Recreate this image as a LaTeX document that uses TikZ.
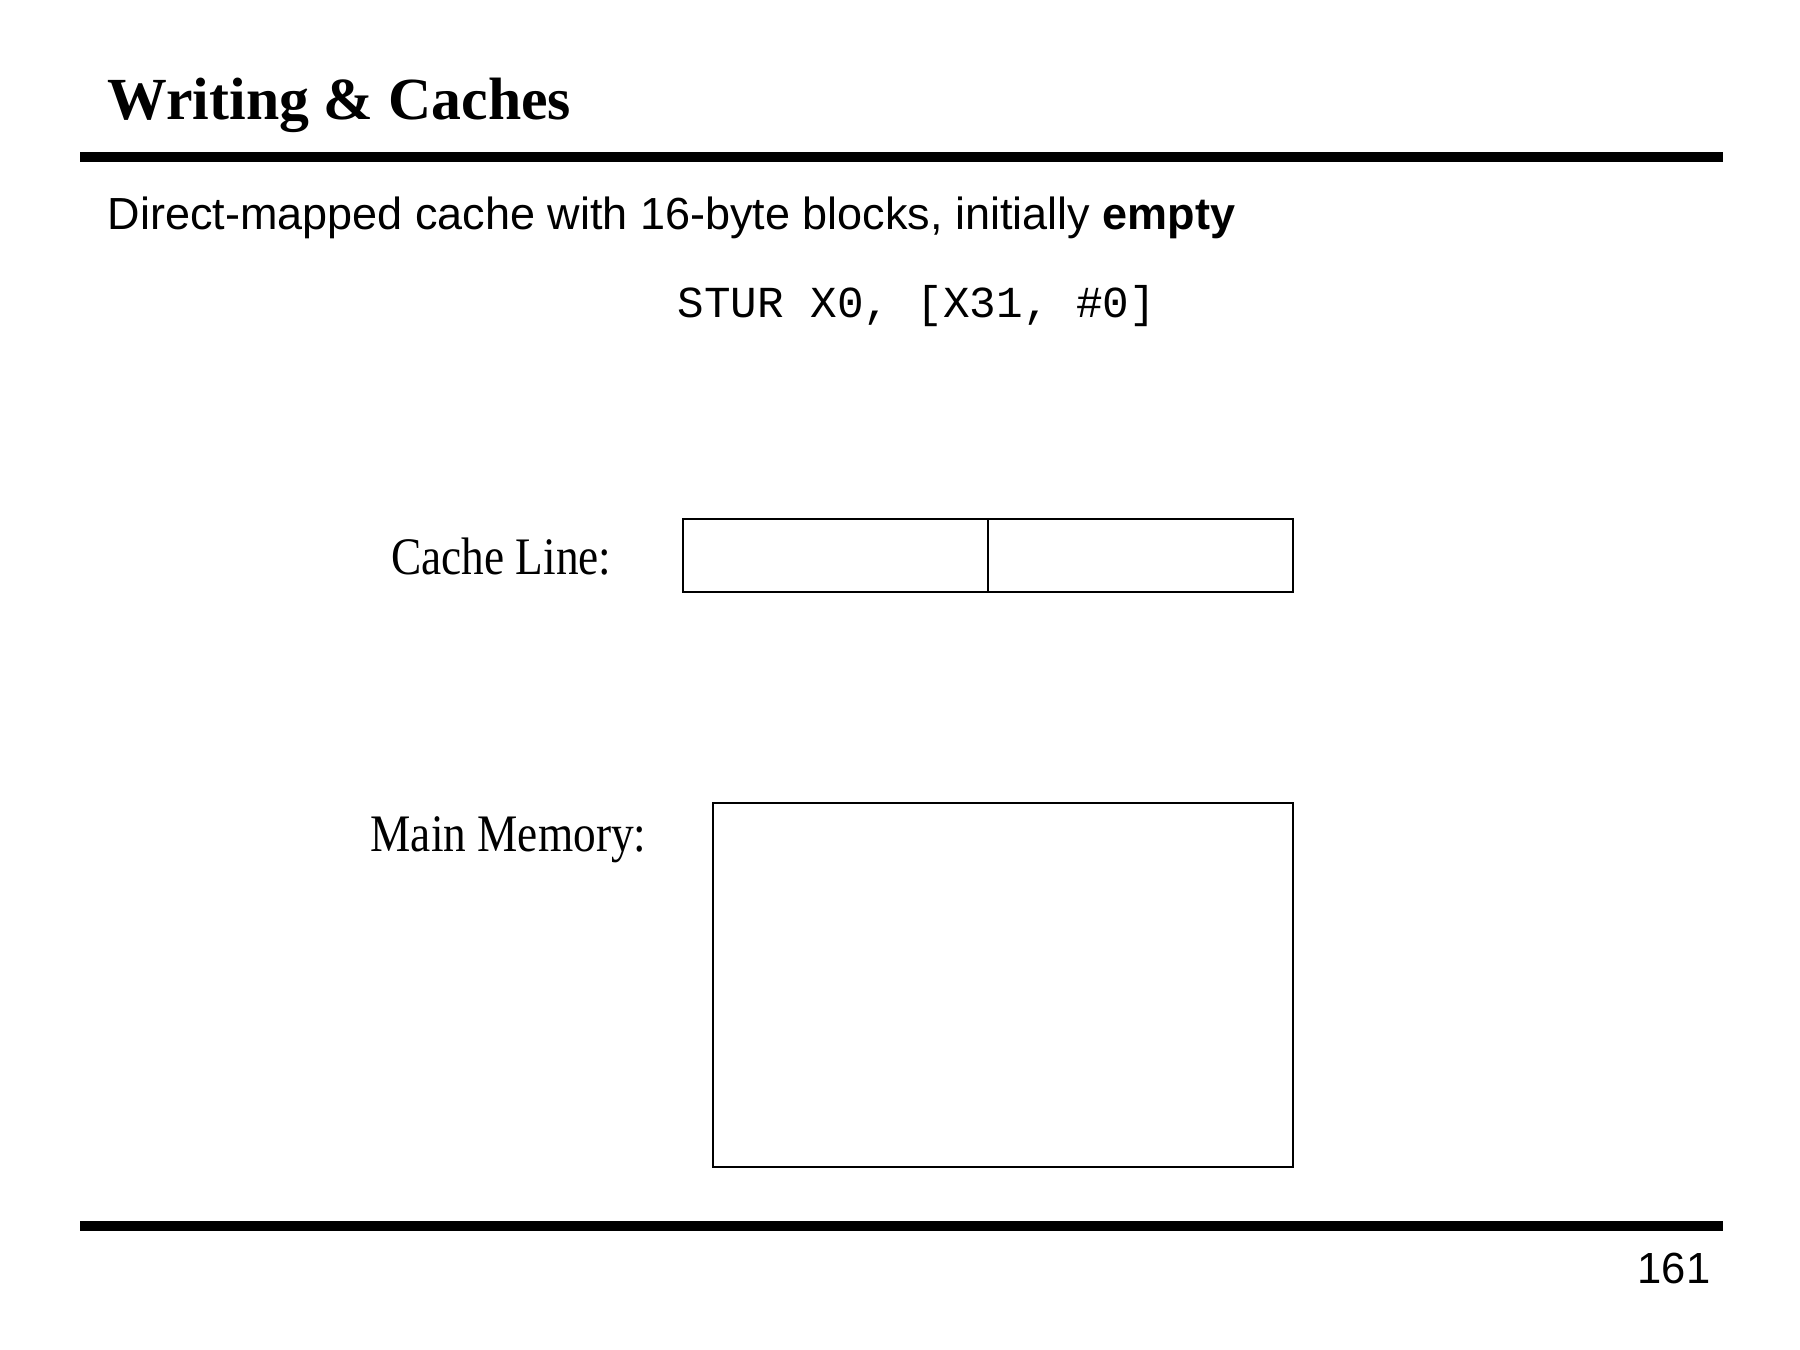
\documentclass[tikz,border=0pt]{standalone}
\usepackage{fontspec}
\setmainfont{Liberation Serif}
\setsansfont{Liberation Sans}
\setmonofont{Liberation Mono}
\tikzset{
  rule/.style={line width=2.6pt},
  cell/.style={draw, line width=0.8pt, inner sep=0pt, outer sep=0pt},
  label/.style={inner sep=0pt, xscale=0.86},
}
\begin{document}
\begin{tikzpicture}
        \useasboundingbox (0,0) rectangle (18,-13.5);
        \node[anchor=base west, inner sep=0pt] (title) at (1.07,-1.19) {\fontsize{17pt}{20pt}\selectfont\bfseries Writing \& Caches};
        \draw[rule] (0.80,-1.57) -- (17.23,-1.57);
        \node[anchor=base west, inner sep=0pt] (sub) at (1.07,-2.29) {\sffamily\fontsize{12.8pt}{15pt}\selectfont Direct-mapped cache with 16-byte blocks, initially \textbf{empty}};
        \node[anchor=base west, inner sep=0pt] (instr) at (6.77,-3.17) {\ttfamily\fontsize{12.6pt}{14pt}\selectfont STUR X0, [X31, \#0]};
        \node[label, anchor=base east] (linelabel) at (6.12,-5.74) {\fontsize{15pt}{18pt}\selectfont Cache Line:};
        \node[cell, minimum width=6.10cm, minimum height=0.73cm, anchor=north west] (cacheline) at (6.83,-5.19) {};
        \draw[line width=0.8pt] ([xshift=3.05cm]cacheline.north west) -- ([xshift=3.05cm]cacheline.south west);
        \node[label, anchor=base east] (memlabel) at (6.47,-8.51) {\fontsize{15pt}{18pt}\selectfont Main Memory:};
        \node[cell, minimum width=5.80cm, minimum height=3.64cm, anchor=north west] (mem) at (7.13,-8.03) {};
        \draw[rule] (0.80,-12.26) -- (17.23,-12.26);
        \node[anchor=base east, inner sep=0pt] (page) at (17.11,-12.83) {\sffamily\fontsize{12.4pt}{15pt}\selectfont 161};
\end{tikzpicture}
\end{document}
